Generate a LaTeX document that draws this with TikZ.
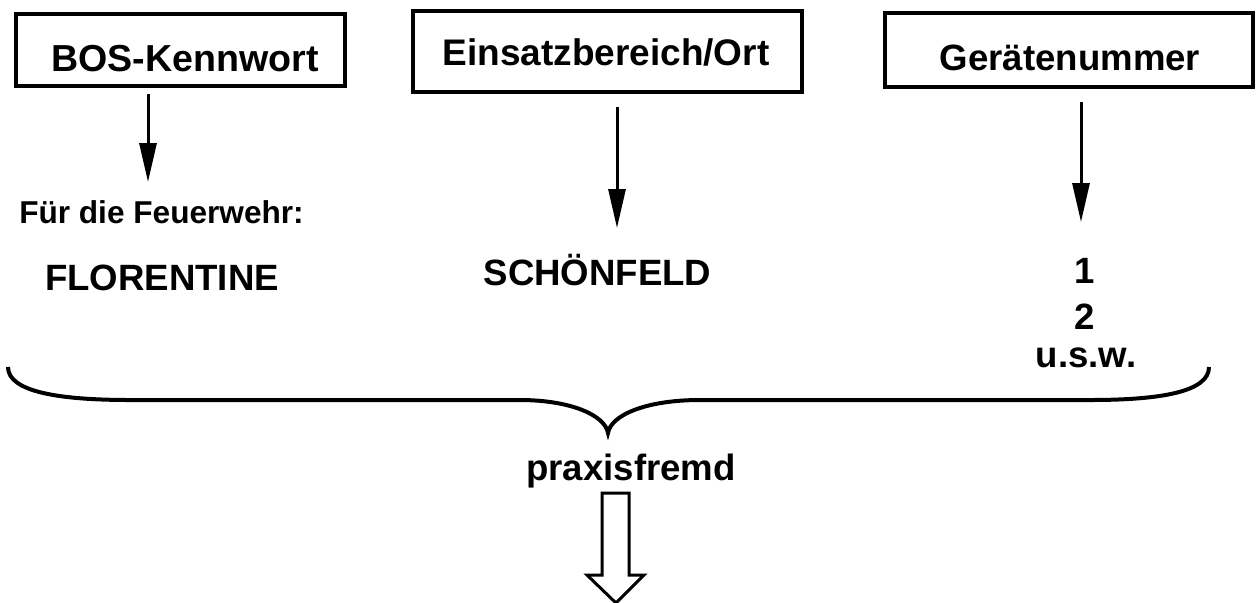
\documentclass[tikz,border=0pt]{standalone}
\usepackage{fontspec}
\setmainfont{Liberation Sans}
\usetikzlibrary{arrows.meta}
\begin{document}
\begin{tikzpicture}[x=0.5pt,y=-0.5pt,
  headbox/.style={draw,line width=1.75pt,inner sep=0pt},
  arr/.style={line width=1.5pt,-{Triangle[length=19.5pt,width=8.5pt]}},
  lbl/.style={anchor=base,inner sep=0pt,font=\bfseries\fontsize{18.3}{22}\selectfont},
  small/.style={anchor=base,inner sep=0pt,font=\bfseries\fontsize{15.8}{19}\selectfont},
  bracestyle/.style={line width=2pt},
  hollow/.style={draw,line width=1.5pt,fill=white,line join=miter}]
\useasboundingbox (0,0) rectangle (1260,602);
% header boxes
\node[headbox,minimum width=164.5pt,minimum height=36pt] (b1) at (180.5,50) {};
\node[headbox,minimum width=194.5pt,minimum height=40.5pt] (b2) at (607.5,51.5) {};
\node[headbox,minimum width=184pt,minimum height=37pt] (b3) at (1069,50) {};
\node[lbl,font=\bfseries\fontsize{18.8}{22}\selectfont] (t1) at (185,71) {BOS-Kennwort};
\node[lbl,font=\bfseries\fontsize{18.5}{22}\selectfont] (t2) at (606,65) {Einsatzbereich/Ort};
\node[lbl] (t3) at (1070,70) {Gerätenummer};
% arrows
\coordinate (a1s) at (148,94);  \coordinate (a1e) at (148,182);
\coordinate (a2s) at (617,107); \coordinate (a2e) at (617,228);
\coordinate (a3s) at (1081,102);\coordinate (a3e) at (1081,222);
\draw[arr] (a1s) -- (a1e);
\draw[arr] (a2s) -- (a2e);
\draw[arr] (a3s) -- (a3e);
% texts
\node[small] (fw) at (161.5,223) {Für die Feuerwehr:};
\node[lbl] (flo) at (162,290) {FLORENTINE};
\node[lbl] (sch) at (597.5,285) {SCHÖNFELD};
\node[lbl] (n1) at (1085,283) {1};
\node[lbl] (n2) at (1085,329) {2};
\node[lbl] (usw) at (1086,367) {u.s.w.};
\node[lbl] (pf) at (631,480) {praxisfremd};
% brace
\draw[bracestyle] (8,367) .. controls (8,392) and (60,400) .. (130,400) -- (520,400)
  .. controls (570,400) and (605,415) .. (608,433)
  .. controls (611,415) and (646,400) .. (700,400) -- (1090,400)
  .. controls (1160,400) and (1209,392) .. (1209,367);
% hollow arrow
\draw[hollow] (602,493) -- (629,493) -- (629,575) -- (644,575) -- (616,603) -- (587,575) -- (602,575) -- cycle;
\end{tikzpicture}
\end{document}
